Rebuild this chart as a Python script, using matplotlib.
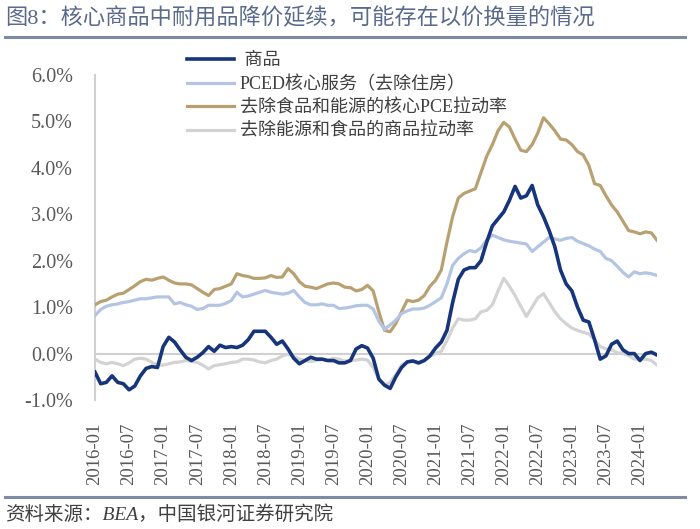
import matplotlib
matplotlib.use("Agg")
import matplotlib.pyplot as plt
from matplotlib.lines import Line2D
import numpy as np

plt.rcParams['font.family'] = ['Liberation Serif', 'Noto Sans CJK SC', 'DejaVu Sans']

months = [f"{y}-{m:02d}" for y in range(2016, 2025) for m in range(1, 13)][:100]
tick_labels = months[::6]

goods = [-0.40, -0.65, -0.62, -0.48, -0.62, -0.65, -0.78, -0.70, -0.48, -0.32,
         -0.28, -0.30, 0.15, 0.35, 0.25, 0.08, -0.08, -0.15, -0.08, 0.02,
         0.15, 0.05, 0.18, 0.13, 0.15, 0.13, 0.18, 0.30, 0.48, 0.48,
         0.48, 0.35, 0.20, 0.27, 0.10, -0.10, -0.22, -0.15, -0.08, -0.12,
         -0.12, -0.15, -0.15, -0.20, -0.20, -0.15, 0.10, 0.17, 0.12, -0.10,
         -0.55, -0.68, -0.75, -0.50, -0.30, -0.18, -0.16, -0.20, -0.15, -0.05,
         0.12, 0.25, 0.50, 1.10, 1.60, 1.80, 1.85, 1.85, 2.00, 2.40,
         2.75, 2.90, 3.05, 3.30, 3.60, 3.35, 3.40, 3.62, 3.20, 2.95,
         2.65, 2.30, 1.80, 1.50, 1.35, 1.00, 0.72, 0.68, 0.30, -0.12,
         -0.05, 0.20, 0.27, 0.08, 0.00, 0.00, -0.15, 0.00, 0.03, -0.03]

services_ex_housing = [0.82, 0.95, 1.02, 1.05, 1.07, 1.10, 1.12, 1.15, 1.18, 1.18,
                       1.20, 1.22, 1.22, 1.22, 1.07, 1.10, 1.05, 1.02, 0.95, 0.97,
                       1.04, 1.04, 1.04, 1.08, 1.14, 1.32, 1.22, 1.24, 1.28, 1.32,
                       1.36, 1.32, 1.30, 1.28, 1.30, 1.36, 1.22, 1.10, 1.05, 1.05,
                       1.07, 1.04, 1.04, 0.97, 0.98, 1.00, 1.03, 1.04, 1.04, 0.96,
                       0.70, 0.52, 0.62, 0.72, 0.86, 0.92, 0.96, 0.96, 0.98, 1.04,
                       1.12, 1.20, 1.50, 1.90, 2.05, 2.15, 2.22, 2.19, 2.28, 2.45,
                       2.55, 2.50, 2.45, 2.42, 2.40, 2.38, 2.36, 2.20, 2.30, 2.40,
                       2.50, 2.47, 2.44, 2.48, 2.50, 2.42, 2.37, 2.32, 2.25, 2.20,
                       2.05, 2.00, 1.88, 1.75, 1.65, 1.76, 1.72, 1.74, 1.72, 1.68]

core_pce_contrib = [1.05, 1.12, 1.15, 1.22, 1.28, 1.30, 1.38, 1.46, 1.55, 1.60,
                    1.58, 1.62, 1.65, 1.58, 1.52, 1.50, 1.50, 1.48, 1.40, 1.32,
                    1.25, 1.38, 1.40, 1.45, 1.50, 1.72, 1.68, 1.66, 1.62, 1.62,
                    1.63, 1.68, 1.64, 1.65, 1.83, 1.72, 1.55, 1.45, 1.43, 1.40,
                    1.45, 1.50, 1.52, 1.50, 1.43, 1.42, 1.35, 1.38, 1.47, 1.35,
                    0.90, 0.50, 0.47, 0.65, 0.90, 1.15, 1.12, 1.15, 1.25, 1.45,
                    1.58, 1.80, 2.40, 2.95, 3.35, 3.45, 3.50, 3.55, 3.90, 4.25,
                    4.50, 4.80, 4.98, 4.88, 4.62, 4.38, 4.35, 4.50, 4.75, 5.08,
                    4.95, 4.80, 4.62, 4.60, 4.50, 4.35, 4.28, 4.05, 3.66, 3.62,
                    3.40, 3.20, 3.05, 2.85, 2.65, 2.62, 2.58, 2.62, 2.60, 2.44]

goods_contrib = [-0.12, -0.19, -0.22, -0.19, -0.22, -0.26, -0.20, -0.12, -0.10, -0.12,
                 -0.19, -0.24, -0.25, -0.22, -0.19, -0.18, -0.15, -0.17, -0.19, -0.25,
                 -0.33, -0.26, -0.24, -0.22, -0.19, -0.18, -0.12, -0.12, -0.14, -0.18,
                 -0.20, -0.15, -0.12, -0.05, -0.01, -0.06, -0.12, -0.15, -0.17, -0.15,
                 -0.12, -0.15, -0.10, -0.12, -0.16, -0.15, -0.14, -0.12, -0.14, -0.30,
                 -0.55, -0.68, -0.62, -0.45, -0.25, -0.18, -0.15, -0.22, -0.15, -0.06,
                 0.00, 0.05, 0.28, 0.55, 0.75, 0.72, 0.72, 0.75, 0.90, 0.93,
                 1.05, 1.35, 1.62, 1.45, 1.25, 1.02, 0.80, 1.00, 1.20, 1.29,
                 1.10, 0.90, 0.75, 0.64, 0.55, 0.50, 0.46, 0.42, 0.30, 0.15,
                 0.10, 0.08, 0.02, 0.00, -0.04, -0.12, -0.12, -0.12, -0.15, -0.25]

series_names = [" 商品", "PCED核心服务（去除住房）", "去除食品和能源的核心PCE拉动率", "去除能源和食品的商品拉动率"]

fig = plt.figure(figsize=(7.0, 5.29), dpi=100)
ax = fig.add_axes([95/700, 129/529, 562/700, 325/529])

x = np.arange(len(months))
ax.axhline(0, color="#d0d0d0", lw=1.5, zorder=1)
l_gray, = ax.plot(x, goods_contrib, color="#d3d3d3", lw=2.3, zorder=2)
l_gold, = ax.plot(x, core_pce_contrib, color="#b9a071", lw=2.3, zorder=3)
l_blue, = ax.plot(x, services_ex_housing, color="#b4c5e4", lw=2.3, zorder=3)
l_navy, = ax.plot(x, goods, color="#17357a", lw=2.6, zorder=4)

ax.set_xlim(0, len(months) - 1)
ax.set_ylim(-1, 6)
yt = np.arange(-1, 7)
ax.set_yticks(yt)
ax.set_yticklabels([f"{v:.1f}%" for v in yt], fontsize=14.5, color="#595959")
ax.set_xticks(x[::6])
ax.set_xticklabels(tick_labels, rotation=90, fontsize=13.5, color="#595959")
ax.tick_params(axis="both", length=0)
ax.tick_params(axis="y", pad=16)
ax.tick_params(axis="x", pad=16)
for s in ["top", "right", "bottom"]:
    ax.spines[s].set_visible(False)
ax.spines["left"].set_color("#d0d0d0")
ax.spines["left"].set_linewidth(1.5)

leg = fig.legend([l_navy, l_blue, l_gold, l_gray], series_names,
                 loc="upper left", bbox_to_anchor=(180/700, 1 - 45/529),
                 frameon=False, fontsize=13, handlelength=2.6, handletextpad=0.3,
                 labelspacing=0.35, borderaxespad=0)
for t in leg.get_texts():
    t.set_color("#404040")

fig.text(5/700, 1 - 18/529, "图8：核心商品中耐用品降价延续，可能存在以价换量的情况",
         fontsize=16, color="#5a6a8c", va="center", ha="left")
fig.add_artist(Line2D([5/700, 685/700], [1 - 37/529, 1 - 37/529], color="#7f8aa3", lw=2.2))
fig.add_artist(Line2D([5/700, 685/700], [1 - 497/529, 1 - 497/529], color="#7f8aa3", lw=2.2))
fig.text(5/700, 1 - 515/529, "资料来源：BEA，中国银河证券研究院",
         fontsize=14, color="#404040", va="center", ha="left", style="italic")

fig.savefig("out.png", dpi=100)
